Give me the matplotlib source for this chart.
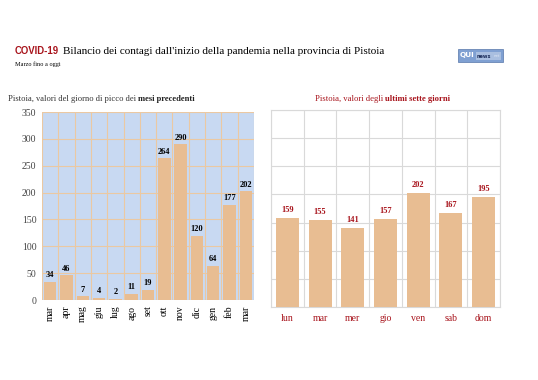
import matplotlib
matplotlib.use("Agg")
import matplotlib.pyplot as plt
from matplotlib.patches import Rectangle
import numpy as np

# data
mesi = ['mar', 'apr', 'mag', 'giu', 'lug', 'ago', 'set', 'ott', 'nov',
        'dic', 'gen', 'feb', 'mar']
picco = [34, 46, 7, 4, 2, 11, 19, 264, 290, 120, 64, 177, 202]
giorni = ['lun', 'mar', 'mer', 'gio', 'ven', 'sab', 'dom']
ultimi = [159, 155, 141, 157, 202, 167, 195]
yticks = [0, 50, 100, 150, 200, 250, 300, 350]

BAR = '#e8bd92'
BLUE = '#c8d9f2'
TAN = '#ebc8a2'
RED = '#a8141c'
SERIF = 'Liberation Serif'

W, H = 538, 380
fig = plt.figure(figsize=(W/100, H/100), dpi=100)

# header
fig.text(15/W, 1 - 54/H, 'COVID-19', family='Liberation Sans',
         weight='bold', color=RED, fontsize=6.9, va='baseline')
fig.text(63/W, 1 - 54/H, "Bilancio dei contagi dall'inizio della pandemia nella provincia di Pistoia",
         family=SERIF, fontsize=8.0, va='baseline')
fig.text(15/W, 1 - 66/H, 'Marzo fino a oggi', family=SERIF, fontsize=4.5,
         va='baseline')

# small logo box
fig.add_artist(Rectangle((458/W, 1 - 62/H), 45/W, 13/H, transform=fig.transFigure,
                         fc='#7fa0d2', ec='#5877aa', lw=0.5))
fig.add_artist(Rectangle((476/W, 1 - 60/H), 25/W, 8/H, transform=fig.transFigure,
                         fc='#a9bfe0', ec='none'))
fig.text(459.5/W, 1 - 55.5/H, 'QUI', family='DejaVu Sans', weight='bold',
         color='white', fontsize=5.3, va='center')
fig.text(477/W, 1 - 56/H, 'news', family='DejaVu Sans', weight='bold',
         color='#1d2f5c', fontsize=3.6, va='center')
fig.text(494/W, 1 - 56/H, 'net', family='DejaVu Sans',
         color='#dde6f4', fontsize=2.8, va='center')

# left chart: monthly peaks
ax1 = fig.add_axes([42/W, 1 - 300/H, 212/W, 188/H])
x1 = np.arange(len(picco))
ax1.set_facecolor(BLUE)
ax1.bar(x1, picco, width=0.76, color=BAR, zorder=3)
ax1.set_xlim(-0.5, len(picco) - 0.5)
ax1.set_ylim(0, 350)
ax1.set_yticks(yticks)
ax1.set_xticks(x1)
ax1.set_xticklabels(mesi, rotation=90, family=SERIF, fontsize=7)
for lab in ax1.get_yticklabels():
    lab.set_family(SERIF)
    lab.set_fontsize(7)
    lab.set_color('#444444')
ax1.set_xticks(np.arange(len(picco) + 1) - 0.5, minor=True)
ax1.grid(True, which='minor', axis='x', color=TAN, lw=0.8, zorder=0)
ax1.grid(True, which='major', axis='y', color=TAN, lw=0.8, zorder=0)
ax1.tick_params(which='both', length=0, pad=4)
for s in ax1.spines.values():
    s.set_visible(False)
for xi, v in zip(x1, picco):
    ax1.text(xi, v + 5, str(v), ha='center', va='bottom', family=SERIF,
             weight='bold', fontsize=6)
fig.text(138/W, 1 - 101/H, 'Pistoia, valori del giorno di picco dei ',
         ha='right', va='baseline', family=SERIF, fontsize=6.1, color='#333333')
fig.text(138/W, 1 - 101/H, 'mesi precedenti',
         ha='left', va='baseline', family=SERIF, weight='bold', fontsize=6.1,
         color='#222222')

# right chart: last seven days
ax2 = fig.add_axes([271/W, 1 - 307/H, 229/W, 197/H])
x2 = np.arange(len(ultimi))
ax2.bar(x2, ultimi, width=0.7, color=BAR, zorder=3)
ax2.set_xlim(-0.5, len(ultimi) - 0.5)
ax2.set_ylim(0, 350)
ax2.set_yticks(yticks)
ax2.set_yticklabels([])
ax2.set_xticks(x2)
ax2.set_xticklabels(giorni, family=SERIF, fontsize=7, color=RED)
ax2.set_xticks(np.arange(len(ultimi) + 1) - 0.5, minor=True)
ax2.grid(True, which='minor', axis='x', color='#d9d9d9', lw=0.8, zorder=0)
ax2.grid(True, which='major', axis='y', color='#d9d9d9', lw=0.8, zorder=0)
ax2.tick_params(which='both', length=0, pad=5)
for s in ax2.spines.values():
    s.set_color('#d9d9d9')
    s.set_linewidth(0.8)
for xi, v in zip(x2, ultimi):
    ax2.text(xi, v + 7, str(v), ha='center', va='bottom', family=SERIF,
             weight='bold', fontsize=6, color=RED)
fig.text(385/W, 1 - 101/H, 'Pistoia, valori degli ',
         ha='right', va='baseline', family=SERIF, fontsize=6.2, color=RED)
fig.text(385/W, 1 - 101/H, 'ultimi sette giorni',
         ha='left', va='baseline', family=SERIF, weight='bold', fontsize=6.2,
         color=RED)

fig.savefig('out.png', dpi=100)
